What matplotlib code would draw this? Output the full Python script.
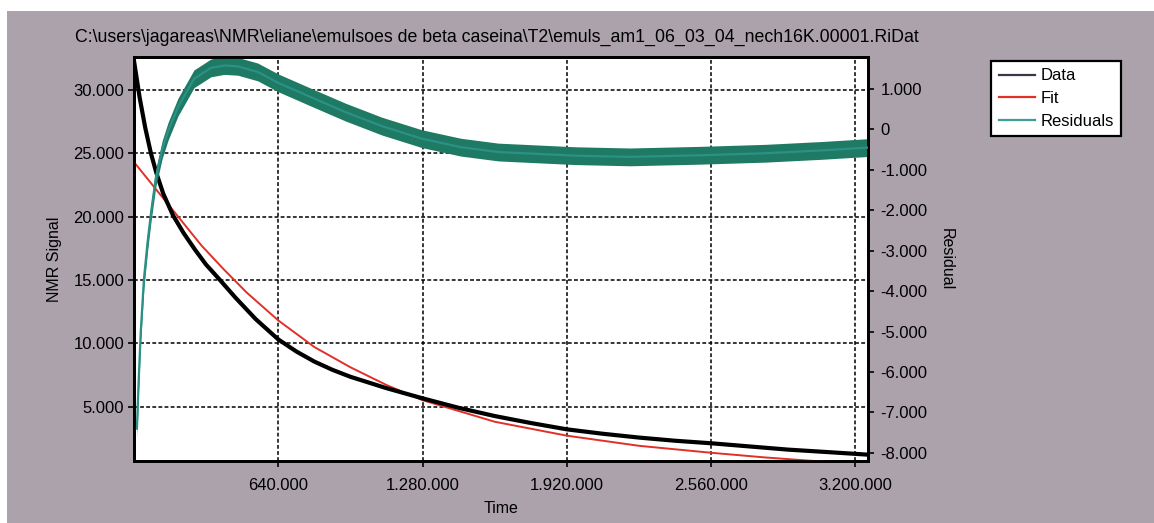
import matplotlib
matplotlib.use("Agg")
import matplotlib.pyplot as plt
from matplotlib.lines import Line2D
from matplotlib.patches import Rectangle
import numpy as np

plt.rcParams['font.family'] = ['Liberation Sans', 'DejaVu Sans']

title = r"C:\users\jagareas\NMR\eliane\emulsoes de beta caseina\T2\emuls_am1_06_03_04_nech16K.00001.RiDat"

# NMR signal (black)
time_data = [0, 25000, 50000, 75000, 100000, 130000, 173000, 220000, 270000, 320000,
             376000, 450000, 540000, 640000, 720000, 800000, 880000, 960000, 1120000,
             1280000, 1440000, 1600000, 1760000, 1920000, 2080000, 2240000, 2400000,
             2560000, 2730000, 2900000, 3080000, 3256000]
signal_data = [32300, 29400, 27000, 25000, 23400, 21800, 20100, 18700, 17400, 16200,
               15100, 13600, 11900, 10300, 9350, 8550, 7900, 7350, 6450,
               5650, 4900, 4250, 3700, 3200, 2850, 2550, 2300,
               2100, 1850, 1600, 1400, 1200]

# fit (red)
time_fit = [0, 100000, 200000, 300000, 400000, 500000, 640000, 800000, 960000, 1120000,
            1280000, 1600000, 1920000, 2240000, 2560000, 2800000, 3000000, 3256000]
signal_fit = [24300, 22100, 19900, 17700, 15800, 14000, 11800, 9700, 8100, 6700,
              5500, 3800, 2700, 1900, 1350, 980, 720, 500]

# residuals (teal, right axis)
time_res = [13000, 20000, 30000, 44000, 60000, 75000, 97000, 125000, 151000, 195000,
            266000, 341000, 400000, 460000, 549000, 640000, 800000, 937000, 1100000,
            1277000, 1450000, 1616000, 1957000, 2200000, 2510000, 2800000, 3050000, 3256000]
residual = [-7400, -6300, -5000, -3700, -2800, -2080, -1190, -500, -50, 550,
            1250, 1520, 1580, 1560, 1420, 1150, 760, 430, 80,
            -230, -440, -560, -650, -680, -640, -590, -520, -450]

x_ticks = [640000, 1280000, 1920000, 2560000, 3200000]
x_labels = ['640.000', '1.280.000', '1.920.000', '2.560.000', '3.200.000']
y_ticks = [5000, 10000, 15000, 20000, 25000, 30000]
y_labels = ['5.000', '10.000', '15.000', '20.000', '25.000', '30.000']
r_ticks = [1000, 0, -1000, -2000, -3000, -4000, -5000, -6000, -7000, -8000]
r_labels = ['1.000', '0', '-1.000', '-2.000', '-3.000', '-4.000', '-5.000', '-6.000',
            '-7.000', '-8.000']

bg = '#aba2ab'
teal = '#1f7a64'

fig = plt.figure(figsize=(11.54, 5.23), dpi=100, facecolor='white')
fig.patches.append(Rectangle((7 / 1154, 0), 1, 512 / 523, transform=fig.transFigure,
                             facecolor=bg, edgecolor='none', zorder=-10))

ax = fig.add_axes([134 / 1154, 1 - 461 / 523, (868 - 134) / 1154, (461 - 57) / 523])
ax.set_facecolor('white')

ax.plot(time_fit, signal_fit, color='#e03028', lw=1.4, zorder=3)
ax.plot(time_data, signal_data, color='black', lw=3.0, zorder=4)

ax.set_xlim(0, 3256000)
ax.set_ylim(700, 32600)
ax.set_xticks(x_ticks)
ax.set_xticklabels(x_labels)
ax.set_yticks(y_ticks)
ax.set_yticklabels(y_labels)
ax.grid(True, color='black', linestyle=(0, (2.5, 1.5)), lw=1.1)
ax.tick_params(axis='both', direction='out', length=4, width=1.2, labelsize=12)
ax.tick_params(axis='x', pad=8)
ax.tick_params(axis='y', pad=3)
ax.set_xlabel('Time', fontsize=11.5, labelpad=6)
ax.set_ylabel('NMR Signal', fontsize=11.5, labelpad=8)

ax2 = ax.twinx()
res = np.array(residual)
ax2.fill_between(time_res, res - 220, res + 220, color=teal, lw=0, zorder=2)
ax2.plot(time_res, residual, color='#2a9088', lw=1.6, zorder=3)
ax2.set_ylim(-8200, 1790)
ax2.set_yticks(r_ticks)
ax2.set_yticklabels(r_labels)
ax2.tick_params(axis='y', direction='out', length=4, width=1.2, labelsize=12, pad=5)
ax2.set_ylabel('Residual', fontsize=11.5, rotation=270, labelpad=19)

for a in (ax, ax2):
    for s in a.spines.values():
        s.set_linewidth(2)
        s.set_color('black')

fig.text(497 / 1154, 1 - 37 / 523, title, ha='center', va='center', fontsize=12.8)

handles = [Line2D([], [], color='#3a3848', lw=1.6),
           Line2D([], [], color='#e03028', lw=1.6),
           Line2D([], [], color='#3f9a9a', lw=1.6)]
leg = fig.legend(handles, ['Data', 'Fit', 'Residuals'], loc='upper left',
                 bbox_to_anchor=(991 / 1154, 1 - 61 / 523), fontsize=12,
                 frameon=True, fancybox=False, handlelength=2.2, handletextpad=0.3,
                 labelspacing=0.45, borderpad=0.45, borderaxespad=0)
leg.get_frame().set_edgecolor('black')
leg.get_frame().set_linewidth(1.6)
leg.get_frame().set_facecolor('white')
leg.get_frame().set_alpha(1)

fig.savefig('out.png', dpi=100, facecolor=fig.get_facecolor())
